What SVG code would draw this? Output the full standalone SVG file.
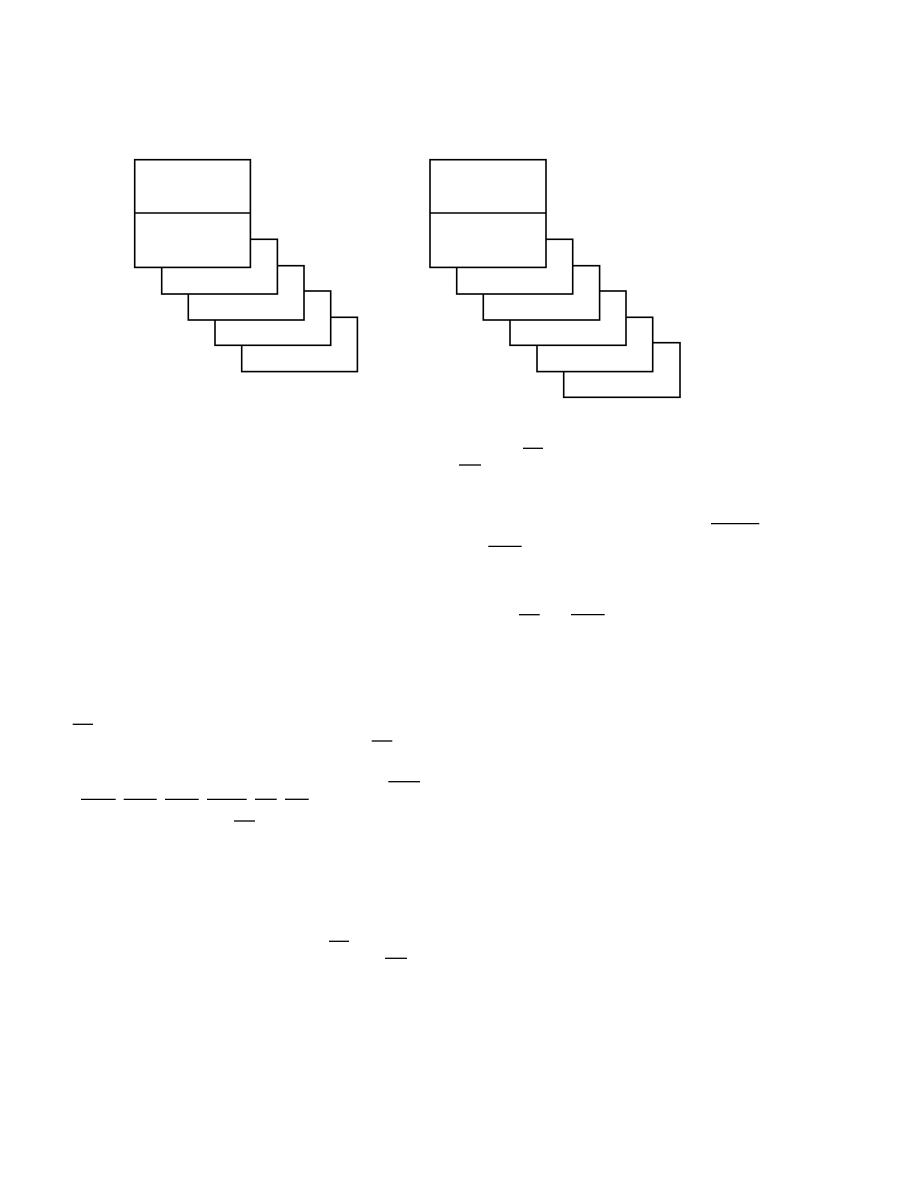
<svg xmlns="http://www.w3.org/2000/svg" width="918" height="1188" viewBox="0 0 918 1188">
<style>
.box{fill:#fff;stroke:#000;stroke-width:1.6}
.bar{stroke:#000;stroke-width:1.3;fill:none}
</style>
<rect width="918" height="1188" fill="#fff"/>
<g id="left-stack">
<g id="left-card-5"><rect class="box" x="241.7" y="317.3" width="115.7" height="54.3"/></g>
<g id="left-card-4"><rect class="box" x="215" y="291" width="115.7" height="54.3"/></g>
<g id="left-card-3"><rect class="box" x="188.3" y="265.7" width="115.7" height="54.3"/></g>
<g id="left-card-2"><rect class="box" x="161.7" y="239.3" width="115.7" height="54.7"/></g>
<g id="left-card-1"><rect class="box" x="134.7" y="159.7" width="115.7" height="107.7"/><line class="box" x1="134.7" y1="213" x2="250.4" y2="213"/></g>
</g>
<g id="right-stack">
<g id="right-card-6"><rect class="box" x="563.7" y="342.7" width="116.3" height="54.6"/></g>
<g id="right-card-5"><rect class="box" x="537" y="317.3" width="115.7" height="54.3"/></g>
<g id="right-card-4"><rect class="box" x="510" y="291" width="116" height="54.3"/></g>
<g id="right-card-3"><rect class="box" x="483.3" y="265.7" width="116.3" height="54.3"/></g>
<g id="right-card-2"><rect class="box" x="456.7" y="239.3" width="116" height="54.7"/></g>
<g id="right-card-1"><rect class="box" x="430" y="159.7" width="116" height="107.7"/><line class="box" x1="430" y1="213" x2="546" y2="213"/></g>
</g>
<g id="bars">
<line class="bar" x1="523" y1="448.3" x2="543" y2="448.3"/>
<line class="bar" x1="459" y1="465" x2="481" y2="465"/>
<line class="bar" x1="711" y1="523.7" x2="759.3" y2="523.7"/>
<line class="bar" x1="488.3" y1="546.3" x2="521.7" y2="546.3"/>
<line class="bar" x1="519" y1="614.7" x2="539.7" y2="614.7"/>
<line class="bar" x1="571" y1="614.7" x2="604.7" y2="614.7"/>
<line class="bar" x1="72.7" y1="724.3" x2="93" y2="724.3"/>
<line class="bar" x1="371.7" y1="741" x2="392.3" y2="741"/>
<line class="bar" x1="388.3" y1="781.7" x2="420" y2="781.7"/>
<line class="bar" x1="81" y1="799.3" x2="115.7" y2="799.3"/>
<line class="bar" x1="123.7" y1="799.3" x2="156.7" y2="799.3"/>
<line class="bar" x1="165" y1="799.3" x2="198.7" y2="799.3"/>
<line class="bar" x1="207" y1="799.3" x2="246.7" y2="799.3"/>
<line class="bar" x1="255" y1="799.3" x2="276.7" y2="799.3"/>
<line class="bar" x1="285" y1="799.3" x2="308.7" y2="799.3"/>
<line class="bar" x1="234" y1="821" x2="255" y2="821"/>
<line class="bar" x1="329" y1="941.3" x2="349" y2="941.3"/>
<line class="bar" x1="385" y1="958.3" x2="407" y2="958.3"/>
</g>
</svg>
